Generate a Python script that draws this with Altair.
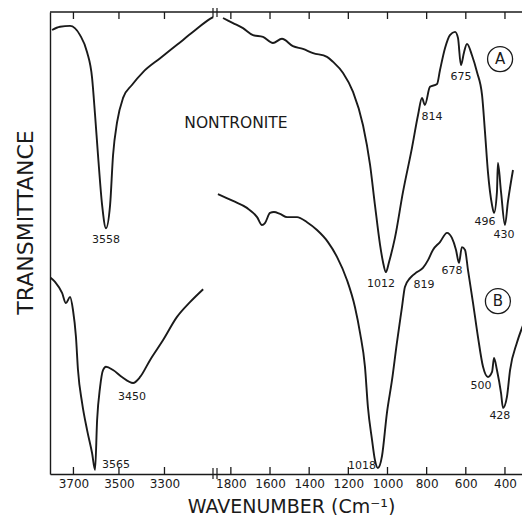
import altair as alt
import pandas as pd

# ---- data: wavenumber (cm-1) and transmittance (arbitrary %, 0 = bottom, 100 = top)
# Curve A, high-wavenumber part
a_hi_wn = [3794, 3759, 3715, 3671, 3640, 3618, 3605, 3592, 3574, 3557, 3539, 3526, 3508, 3482, 3443,
           3394, 3319, 3245, 3174, 3100, 3086]
a_hi_t = [96.1, 96.8, 97.0, 95.0, 91.3, 85.7, 77.7, 69.0, 58.2, 53.2, 58.2, 69.0, 76.2, 81.4, 84.2,
          87.0, 90.0, 92.9, 95.7, 98.5, 98.9]
# Curve A, low-wavenumber part
a_lo_wn = [1840, 1789, 1738, 1687, 1636, 1585, 1539, 1483, 1432, 1380, 1309, 1278, 1227, 1176, 1125,
           1089, 1064, 1038, 1023, 1008, 992, 962, 921, 875, 844, 824, 809, 783, 747, 732,
           706, 681, 655, 640, 625, 609, 594, 569, 543, 517, 502, 487, 466, 456, 441,
           436, 420, 400, 385, 359]
a_lo_t = [98.7, 97.6, 96.5, 95.0, 94.6, 93.3, 94.2, 92.6, 92.0, 91.1, 90.3, 89.2, 86.8, 82.7, 75.5,
          66.9, 58.2, 49.6, 45.9, 43.7, 45.9, 51.1, 61.0, 70.6, 77.7, 81.4, 79.9, 83.8, 84.4, 87.4,
          92.2, 95.0, 95.7, 94.4, 88.5, 91.3, 93.1, 90.7, 87.0, 82.0, 74.0, 65.4, 58.2, 56.5, 61.0,
          67.3, 61.0, 53.9, 58.9, 65.8]
# Curve B, high-wavenumber part
b_hi_wn = [3803, 3781, 3750, 3733, 3715, 3702, 3689, 3680, 3662, 3640, 3618, 3605, 3596, 3583, 3570,
           3557, 3526, 3487, 3438, 3407, 3363, 3306, 3245, 3188, 3130]
b_hi_t = [42.6, 41.6, 39.2, 37.0, 38.3, 35.5, 29.7, 22.5, 15.4, 9.5, 4.5, 0.9, 11.7, 18.8, 22.5,
          23.2, 22.5, 21.0, 19.7, 21.0, 24.7, 29.0, 34.0, 37.2, 40.0]
# Curve B, low-wavenumber part
b_lo_wn = [1866, 1789, 1718, 1666, 1641, 1626, 1600, 1580, 1549, 1513, 1462, 1411, 1360, 1304, 1258,
           1207, 1166, 1140, 1115, 1100, 1079, 1064, 1049, 1028, 1003, 977, 952, 926, 911, 885,
           849, 819, 793, 768, 732, 696, 671, 650, 635, 620, 604, 589, 563, 538, 512,
           487, 466, 456, 441, 420, 410, 390, 374, 339, 303]
b_lo_t = [60.6, 59.1, 57.6, 55.6, 53.9, 54.3, 56.5, 56.7, 56.3, 55.6, 55.6, 54.5, 52.8, 50.2, 47.0,
          42.0, 36.1, 30.5, 23.2, 14.5, 7.4, 3.0, 1.3, 3.9, 13.2, 20.3, 28.4, 36.1, 40.5, 42.4,
          43.7, 44.6, 46.3, 48.5, 50.2, 52.2, 51.1, 48.5, 45.7, 49.1, 48.5, 44.2, 37.0, 29.7, 23.2,
          21.0, 22.1, 25.1, 22.5, 17.5, 14.3, 16.7, 22.5, 28.4, 32.7]

# Peak annotations
peak_text = ["3558", "814", "675", "496", "430", "1012", "819", "678", "500", "428", "3450", "3565", "1018"]
peak_wn = [3557, 773, 625, 502, 405, 1033, 814, 671, 523, 426, 3443, 3513, 1130]
peak_t = [50.6, 77.3, 85.9, 54.5, 51.7, 41.1, 40.9, 43.9, 19.0, 12.6, 16.7, 1.9, 1.7]

# Sample name
name_text = ["NONTRONITE"]
name_wn = [1774]
name_t = [76.0]

# Circled curve letters
letter_text = ["A", "B"]
letter_wn = [425, 436]
letter_t = [89.8, 37.4]

# Axis ticks and the break of the wavenumber axis
tick_values = [3700, 3500, 3300, 1800, 1600, 1400, 1200, 1000, 800, 600, 400]
break_wn = [1881]

# ---- build tables
parts = []
for name, wn, t in [("A1", a_hi_wn, a_hi_t), ("A2", a_lo_wn, a_lo_t),
                    ("B1", b_hi_wn, b_hi_t), ("B2", b_lo_wn, b_lo_t)]:
    parts.append(pd.DataFrame({"wn": wn, "t": t, "seg": name}))
lines_df = pd.concat(parts, ignore_index=True)
peaks_df = pd.DataFrame({"wn": peak_wn, "t": peak_t, "label": peak_text})
names_df = pd.DataFrame({"wn": name_wn, "t": name_t, "label": name_text})
letters_df = pd.DataFrame({"wn": letter_wn, "t": letter_t, "label": letter_text})
ticks_df = pd.DataFrame({"wn": tick_values})
break_df = pd.DataFrame({"wn": break_wn})
one_df = pd.DataFrame({"k": [0]})

W, H = 472, 462
FONT = "DejaVu Sans"
INK = "#1a1a1a"

# broken wavenumber axis: piecewise linear scale
x_scale = alt.Scale(domain=[3803, 3078, 1881, 313], range=[0, 165, 165, W], zero=False, nice=False)
y_scale = alt.Scale(domain=[0, 100], zero=False, nice=False)

x_axis = alt.Axis(values=tick_values, format="d", orient="bottom", ticks=False, grid=False,
                  domain=True, domainColor=INK, domainWidth=1.4,
                  labelFont=FONT, labelFontSize=12, labelColor=INK, labelPadding=4,
                  labelOverlap=False, labelFlush=False,
                  title="WAVENUMBER (Cm⁻¹)", titleFont=FONT, titleFontSize=19,
                  titleFontWeight="normal", titleColor=INK, titleX=241, titleY=32,
                  titleAlign="center", titleBaseline="middle")
y_axis = alt.Axis(orient="left", ticks=False, labels=False, grid=False,
                  domain=True, domainColor=INK, domainWidth=1.4,
                  title="TRANSMITTANCE", titleFont=FONT, titleFontSize=22,
                  titleFontWeight="normal", titleColor=INK, titleAngle=270,
                  titleX=-25, titleY=210, titleAlign="center", titleBaseline="middle")

# every layer carries the same axis definition so the shared axes merge cleanly
xs = alt.X("wn:Q", scale=x_scale, axis=x_axis)
ys = alt.Y("t:Q", scale=y_scale, axis=y_axis)

lines = alt.Chart(lines_df).mark_line(color=INK, strokeWidth=1.9, interpolate="monotone", clip=True).encode(
    x=xs, y=ys, detail="seg:N",
)

bottom_ticks = alt.Chart(ticks_df).mark_rule(color=INK, strokeWidth=1.3).encode(
    x=xs, y=alt.value(H), y2=alt.value(H - 7))
top_ticks = alt.Chart(ticks_df).mark_rule(color=INK, strokeWidth=1.3).encode(
    x=xs, y=alt.value(0), y2=alt.value(7))
top_line = alt.Chart(one_df).mark_rule(color=INK, strokeWidth=1.4).encode(
    x=alt.value(0), x2=alt.value(W), y=alt.value(0))

break_layers = []
for off in (-2, 2):
    break_layers.append(alt.Chart(break_df).mark_rule(color=INK, strokeWidth=1.2, xOffset=off).encode(
        x=xs, y=alt.value(-4), y2=alt.value(5)))
    break_layers.append(alt.Chart(break_df).mark_rule(color=INK, strokeWidth=1.2, xOffset=off).encode(
        x=xs, y=alt.value(H - 6), y2=alt.value(H + 5)))

peaks = alt.Chart(peaks_df).mark_text(font=FONT, fontSize=11, color=INK, align="center",
                                      baseline="middle").encode(x=xs, y=ys, text="label:N")
names = alt.Chart(names_df).mark_text(font=FONT, fontSize=15.5, color=INK, align="center",
                                      baseline="middle").encode(x=xs, y=ys, text="label:N")
letters = alt.Chart(letters_df).mark_text(font=FONT, fontSize=15, color=INK, align="center",
                                          baseline="middle").encode(x=xs, y=ys, text="label:N")
rings = alt.Chart(letters_df).mark_point(shape="circle", size=625, filled=False, color=INK,
                                         strokeWidth=1.3, opacity=1).encode(x=xs, y=ys)

chart = alt.layer(
    lines, bottom_ticks, top_ticks, top_line, *break_layers, peaks, names, letters, rings
).properties(
    width=W, height=H, autosize="none",
    padding={"left": 42, "top": 4, "right": 0, "bottom": 41},
    background="white",
).configure_view(stroke="transparent", strokeWidth=0)

chart.save("out.html", embed_options={"renderer": "svg", "actions": False})
